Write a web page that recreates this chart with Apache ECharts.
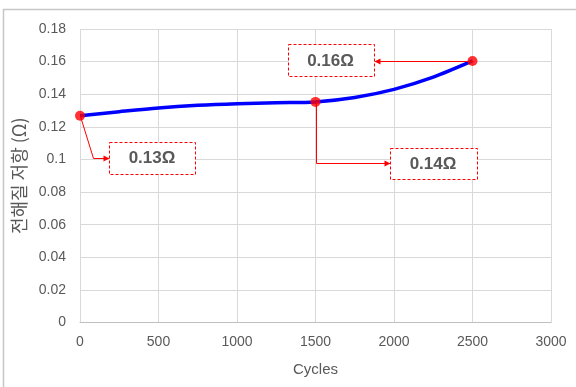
<!DOCTYPE html>
<html>
<head>
<meta charset="utf-8">
<style>
  html, body { margin: 0; padding: 0; background: #ffffff; }
  #chart { width: 576px; height: 387px; }
</style>
<script src="https://cdn.jsdelivr.net/npm/echarts@6/dist/echarts.min.js"></script>
</head>
<body>
<div id="chart"></div>
<script>
// Electrolyte resistance over charge/discharge cycles
const cycles = [0, 250, 500, 750, 1000, 1250, 1500, 1750, 2000, 2250, 2500];
const resistance = [0.1268, 0.1293, 0.1316, 0.1332, 0.1342, 0.1348, 0.1353, 0.1380, 0.1430, 0.1505, 0.1604];
const markedCycles = [0, 1500, 2500];
const xTicks = [0, 500, 1000, 1500, 2000, 2500, 3000];
const yTicks = [0, 0.02, 0.04, 0.06, 0.08, 0.1, 0.12, 0.14, 0.16, 0.18];

const textColor = '#595959';
const latin = '"Liberation Sans", Arial, sans-serif';
const korean = '"Noto Sans CJK KR", "Noto Sans", sans-serif';

const chart = echarts.init(document.getElementById('chart'), null, { renderer: 'canvas' });

const linePoints = cycles.map((c, i) => [c, resistance[i]]);
const markedPoints = markedCycles.map(c => [c, resistance[cycles.indexOf(c)]]);

chart.setOption({
  animation: false,
  backgroundColor: '#ffffff',
  grid: { left: 80, right: 25, top: 29, bottom: 64.5 },
  xAxis: {
    type: 'value',
    min: xTicks[0],
    max: xTicks[xTicks.length - 1],
    interval: xTicks[1] - xTicks[0],
    name: 'Cycles',
    nameLocation: 'middle',
    nameGap: 40,
    nameTextStyle: { color: textColor, fontFamily: latin, fontSize: 15 },
    axisLine: { show: true, lineStyle: { color: '#bfbfbf', width: 1 } },
    axisTick: { show: false },
    axisLabel: { color: textColor, fontFamily: latin, fontSize: 14, margin: 13, formatter: v => String(v) },
    splitLine: { show: true, lineStyle: { color: '#d9d9d9', width: 1 } }
  },
  yAxis: {
    type: 'value',
    min: yTicks[0],
    max: yTicks[yTicks.length - 1],
    interval: 0.02,
    name: '전해질 저항 (Ω)',
    nameLocation: 'middle',
    nameGap: 52,
    nameTextStyle: { color: textColor, fontFamily: korean, fontSize: 18 },
    axisLine: { show: false },
    axisTick: { show: false },
    axisLabel: { color: textColor, fontFamily: latin, fontSize: 14, margin: 14 },
    splitLine: { show: true, lineStyle: { color: '#d9d9d9', width: 1 } }
  },
  series: [
    {
      type: 'line',
      data: linePoints,
      smooth: 0.3,
      symbol: 'none',
      lineStyle: { color: '#0000ff', width: 3.5 },
      z: 3
    },
    {
      type: 'scatter',
      data: markedPoints,
      symbol: 'circle',
      symbolSize: 10,
      itemStyle: { color: '#ff0000' },
      z: 5
    }
  ]
});

// Callout boxes: leader path offsets and box geometry relative to each marked point
const callouts = [
  { path: [[0, 0], [13, 42], [29, 42]], box: [29, 26, 86, 32], dir: 'right' },
  { path: [[0, 0], [0, 61], [74, 61]], box: [74, 46, 87, 31], dir: 'right' },
  { path: [[0, 0], [-99, 0]], box: [-185, -17, 86, 32], dir: 'left' }
];

const crisp = v => Math.round(v) + 0.5;

function buildCallouts() {
  const elements = [];
  // chart frame (top and left edges visible)
  elements.push({
    type: 'rect',
    shape: { x: 3.5, y: 9.5, width: 620, height: 420 },
    style: { fill: 'none', stroke: '#c6c6c6', lineWidth: 1.5 },
    z: 0
  });
  markedPoints.forEach((pt, i) => {
    const p = chart.convertToPixel({ gridIndex: 0 }, pt);
    const c = callouts[i];
    const pts = c.path.map(d => [crisp(p[0] + d[0]), crisp(p[1] + d[1])]);
    elements.push({
      type: 'polyline',
      shape: { points: pts },
      style: { stroke: '#ff0000', lineWidth: 1, fill: null },
      z: 4
    });
    const tip = pts[pts.length - 1];
    const s = c.dir === 'right' ? -1 : 1;
    elements.push({
      type: 'polygon',
      shape: { points: [[tip[0], tip[1]], [tip[0] + s * 6, tip[1] - 3], [tip[0] + s * 6, tip[1] + 3]] },
      style: { fill: '#ff0000' },
      z: 4
    });
    const [bx, by, bw, bh] = c.box;
    elements.push({
      type: 'rect',
      shape: { x: crisp(p[0] + bx), y: crisp(p[1] + by), width: bw, height: bh },
      style: { fill: '#ffffff', stroke: '#ff0000', lineWidth: 1, lineDash: [3, 2] },
      z: 4
    });
    elements.push({
      type: 'text',
      x: p[0] + bx + bw / 2,
      y: p[1] + by + bh / 2 + 1,
      style: {
        text: pt[1].toFixed(2) + 'Ω',
        fill: textColor,
        font: 'bold 17px ' + latin,
        align: 'center',
        verticalAlign: 'middle'
      },
      z: 6
    });
  });
  chart.setOption({ graphic: { elements: elements } });
}
buildCallouts();
</script>
</body>
</html>
